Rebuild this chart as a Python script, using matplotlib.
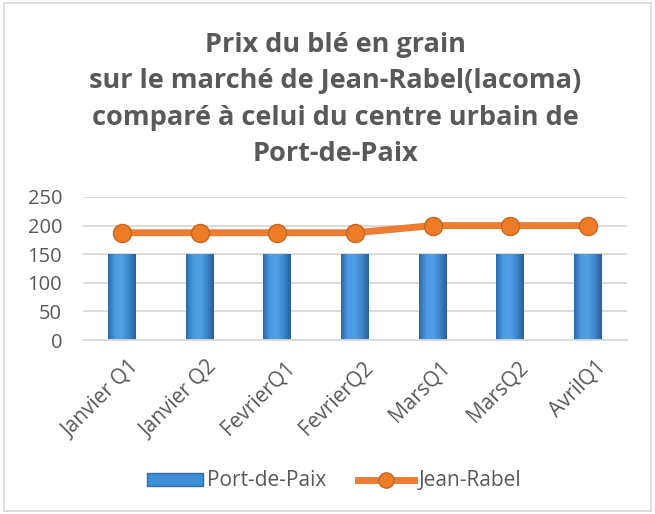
import numpy as np
import matplotlib.pyplot as plt
from matplotlib.patches import Rectangle, Patch
from matplotlib.lines import Line2D
from matplotlib.colors import LinearSegmentedColormap
from matplotlib.transforms import ScaledTranslation

categories = ["Janvier Q1", "Janvier Q2", "FevrierQ1", "FevrierQ2", "MarsQ1", "MarsQ2", "AvrilQ1"]
port_de_paix = [150, 150, 150, 150, 150, 150, 150]
jean_rabel = [187.5, 187.5, 187.5, 187.5, 200, 200, 200]
yticks = [0, 50, 100, 150, 200, 250]

titre = "Prix du blé en grain\nsur le marché de Jean-Rabel(lacoma)\ncomparé à celui du centre urbain de\nPort-de-Paix"

plt.rcParams['font.family'] = ['Open Sans', 'DejaVu Sans']

fig = plt.figure(figsize=(6.55, 5.14), dpi=100)
ax = fig.add_axes([83 / 655, 1 - 340 / 514, 544 / 655, 143 / 514])

x = np.arange(len(categories))
bars = ax.bar(x, port_de_paix, width=0.36, color="#3F8ED6", edgecolor="none", linewidth=0, zorder=2)

# degrade horizontal dans chaque barre
cmap = LinearSegmentedColormap.from_list("bleu", ["#2C6AAA", "#4A9BE2", "#4FA0E6", "#3C86CC", "#2A5F99"])
grad = np.linspace(0, 1, 64).reshape(1, -1)
for b in bars:
    x0, y0 = b.get_x(), b.get_y()
    im = ax.imshow(grad, cmap=cmap, aspect="auto", zorder=2.1,
                   extent=[x0, x0 + b.get_width(), y0, y0 + b.get_height()])
    im.set_clip_path(b)

ax.plot(x, jean_rabel, color="#ED7D31", linewidth=5, marker="o", markersize=13,
        markerfacecolor="#EE7B26", markeredgecolor="#C8651F", markeredgewidth=1, zorder=3)

ax.set_xlim(-0.5, len(categories) - 0.5)
ax.set_ylim(0, 250)
ax.set_yticks(yticks)
ax.yaxis.grid(True, color="#D9D9D9", linewidth=1.3, zorder=0)
ax.set_axisbelow(True)
for s in ["top", "right", "left"]:
    ax.spines[s].set_visible(False)
ax.spines["bottom"].set_color("#D9D9D9")
ax.spines["bottom"].set_linewidth(1.3)
ax.tick_params(axis="both", length=0, labelsize=14.5, colors="#595959")
ax.tick_params(axis="y", pad=15)
ax.tick_params(axis="x", pad=12, labelsize=15)
ax.set_xticks(x)
ax.set_xticklabels(categories, rotation=45, ha="right", rotation_mode="anchor")
decal = ScaledTranslation(5 / 72, 0, fig.dpi_scale_trans)
for lab in ax.get_xticklabels():
    lab.set_transform(lab.get_transform() + decal)

fig.text(0.512, 1 - 32 / 514, titre, ha="center", va="top", fontsize=19.5, fontweight="bold",
         color="#595959", linespacing=1.52)

handles = [Patch(facecolor="#3F8ED6", edgecolor="#2F6CA8"),
           Line2D([0], [0], color="#ED7D31", linewidth=5, marker="o", markersize=11,
                  markerfacecolor="#EE7B26", markeredgecolor="#C8651F")]
fig.legend(handles, ["Port-de-Paix", "Jean-Rabel"], loc="center", bbox_to_anchor=(0.51, 1 - 481 / 514),
           ncol=2, frameon=False, fontsize=15, labelcolor="#595959", handlelength=2.7,
           handleheight=0.6, columnspacing=1.5, handletextpad=0.2)

fig.patches.append(Rectangle((0.006, 0.006), 0.988, 0.988, transform=fig.transFigure,
                             fill=False, edgecolor="#D9D9D9", linewidth=1.2))

fig.savefig("out.png", dpi=100)
